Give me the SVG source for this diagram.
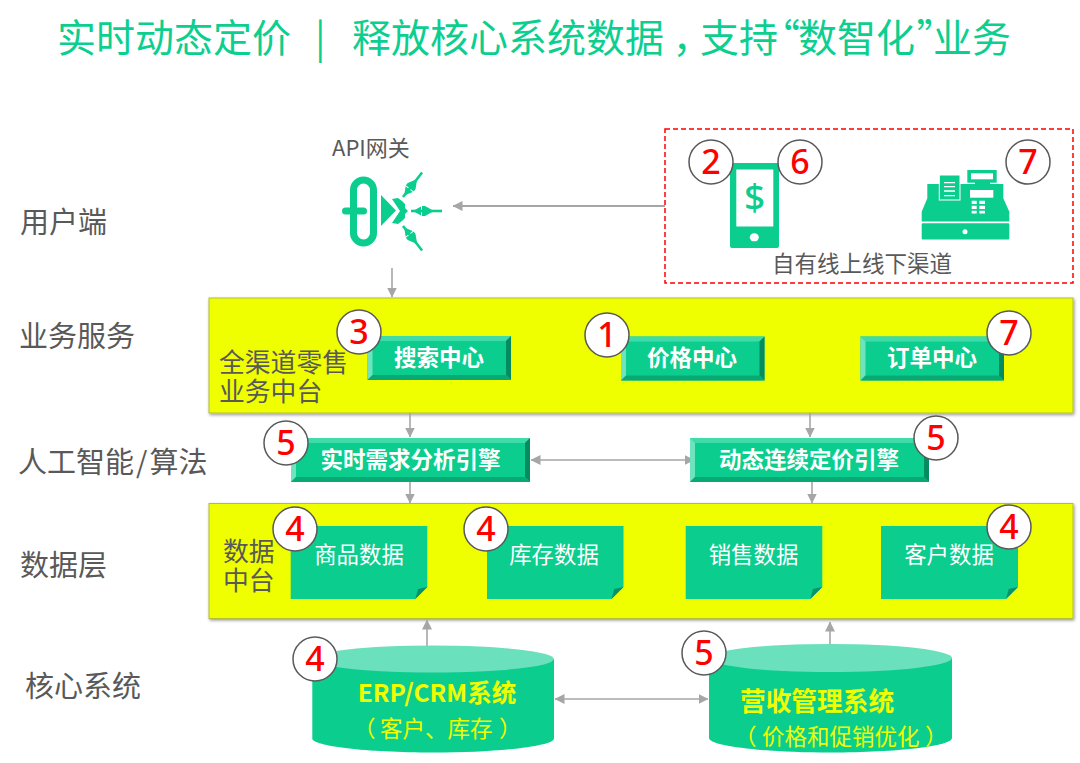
<svg xmlns="http://www.w3.org/2000/svg" width="1080" height="763" viewBox="0 0 1080 763">
<style>
text{font-family:"Noto Sans CJK SC","Noto Sans",sans-serif}
.title{font-size:39px;fill:#0ccf8f}
.p{font-feature-settings:"palt"}
.side{font-size:29px;fill:#595959}
.inner{font-size:25.800px;fill:#595959}
.small{font-size:22.500px;fill:#595959}
.btn{font-size:22.500px;font-weight:700;fill:#fff;text-anchor:middle}
.card{font-size:22.400px;fill:#fff;text-anchor:middle}
.sys{font-weight:700;fill:#f0ff00}
.sub{font-size:22.500px;fill:#f0ff00}
.panel{fill:#efff05;stroke:#b3bd3a;stroke-width:1;filter:url(#sh)}
.g{fill:#0bce8e}
.lt{fill:#3fdcaa}.ll{fill:#6fe3bf}.lr{fill:#068a60}.lb{fill:#09a976}
.top{fill:#6be0bc}
.fold{fill:#07916a}
.badge circle{fill:#fff;stroke:#595959;stroke-width:1.500}
.badge text{font-family:"Noto Sans",sans-serif;font-size:34px;font-weight:500;fill:#f00;text-anchor:middle}
.w{fill:#fff}
.c{stroke:#a6a6a6;stroke-width:1.600;fill:none}
</style>
<defs>
<filter id="sh" x="-2%" y="-5%" width="104%" height="110%"><feDropShadow dx="1" dy="1.500" stdDeviation="1.500" flood-color="#000" flood-opacity="0.4"/></filter>
<marker id="ah" viewBox="0 0 10 10" refX="9.500" refY="5" markerWidth="10" markerHeight="10" markerUnits="userSpaceOnUse" orient="auto-start-reverse"><path d="M0 0L10 5L0 10z" fill="#a6a6a6"/></marker>
<g id="plug"><path d="M0 -1.300H31V1.300H0z"/><path d="M2 0L10 -4.500V4.500z"/><path d="M11 -5H14L23 0L14 5H11z"/></g>
</defs>

<g id="title">
<text class="title p" y="52"><tspan x="57">实时动态定价</tspan><tspan x="315">|</tspan><tspan x="352">释放核心系统数据</tspan><tspan x="675">，</tspan><tspan x="700">支持</tspan><tspan x="780">“</tspan><tspan x="798">数智化</tspan><tspan x="917">”</tspan><tspan x="933">业务</tspan></text>
</g>

<g id="layer-labels">
<text class="side" x="20" y="233">用户端</text>
<text class="side" x="19" y="347">业务服务</text>
<text class="side" y="473"><tspan x="18">人工智能</tspan><tspan x="136">/</tspan><tspan x="149.500">算法</tspan></text>
<text class="side" x="20" y="576">数据层</text>
<text class="side" x="25" y="697">核心系统</text>
</g>

<g id="panel-business"><rect class="panel" x="209" y="298" width="864" height="115"/>
<text class="inner" x="219" y="372">全渠道零售</text><text class="inner" x="219" y="401">业务中台</text></g>
<g id="panel-data"><rect class="panel" x="209" y="503.500" width="864" height="115"/>
<text class="inner" x="223" y="561">数据</text><text class="inner" x="223" y="590">中台</text></g>

<g id="connectors">
<path class="c" style="stroke-width:2" d="M665 206H453" marker-end="url(#ah)"/>
<path class="c" d="M392 268V297" marker-end="url(#ah)"/>
<path class="c" d="M410 413V437" marker-end="url(#ah)"/>
<path class="c" d="M810 413V437" marker-end="url(#ah)"/>
<path class="c" d="M531 460H694" marker-start="url(#ah)" marker-end="url(#ah)"/>
<path class="c" d="M410 482V503" marker-end="url(#ah)"/>
<path class="c" d="M812 482V503" marker-end="url(#ah)"/>
<path class="c" d="M427 646V620" marker-end="url(#ah)"/>
<path class="c" d="M830 645V622" marker-end="url(#ah)"/>
<path class="c" d="M555 699H708" marker-start="url(#ah)" marker-end="url(#ah)"/>
</g>

<g id="api-gateway">
<text x="332" y="156" style="font-size:22px;fill:#595959">API网关</text>
<rect x="353.500" y="180" width="20" height="63" rx="10" fill="none" stroke="#0bce8e" stroke-width="7"/>
<rect class="g" x="342" y="207.500" width="25" height="7" rx="3.500"/>
<path class="g" d="M381 195L396 210.500L381 226z"/>
<path class="g" d="M392 199L398 198L402 201L405 204L405 208L408 211L405 214L405 218L402 221L398 224L392 223L400 211z"/>
<g class="g"><use href="#plug" transform="translate(411 211)"/><use href="#plug" transform="translate(403 197) rotate(-52)"/><use href="#plug" transform="translate(403 226) rotate(52)"/></g>
</g>

<g id="channels">
<rect x="665" y="129" width="408" height="154" fill="none" stroke="#f00" stroke-width="1.500" stroke-dasharray="5 3"/>
<text class="small" x="772" y="272">自有线上线下渠道</text>
</g>

<g id="phone">
<rect class="g" x="730" y="163" width="49" height="85" rx="2"/>
<rect class="w" x="736.300" y="169.500" width="37" height="57"/>
<ellipse class="w" cx="754.300" cy="237.300" rx="4.500" ry="4"/>
<text x="754.500" y="210" text-anchor="middle" style="font-family:'Noto Sans',sans-serif;font-weight:500;font-size:37px;fill:#0bce8e">$</text>
</g>

<g id="register">
<rect class="g" x="921.700" y="223.300" width="87.600" height="16.200" rx="1"/>
<circle class="w" cx="965" cy="231.700" r="2.500"/>
<path class="g" d="M921.700 221.500V211.700L927.300 198.300V184H1003.300V198.300L1009.300 211.700V221.500z"/>
<rect class="g" x="939.300" y="175" width="20.700" height="25" stroke="#fff" stroke-width="1"/>
<path d="M944 182.700H955M944 186.700H955M944 191H955M944 195.700H955" stroke="#fff" stroke-width="1.300"/>
<rect class="g" x="975" y="181" width="15" height="4"/>
<rect class="g" x="967.300" y="170" width="29.400" height="12.700"/>
<rect class="w" x="971" y="173.300" width="22" height="6"/>
<rect class="w" x="970" y="190" width="23.300" height="7.700"/>
<path class="w" d="M971.700 200.700h5v3.300h-5zM979.300 200.700h5.700v3.300h-5.700zM971.700 205.700h5v3.300h-5zM979.300 205.700h5.700v3.300h-5.700zM971.700 210.700h5v2.800h-5zM979.300 210.700h5.700v2.800h-5.700z"/>
</g>

<g id="btn-search">
<rect class="g" x="367.500" y="336" width="143.500" height="44"/>
<path class="lt" d="M367.500 336H511L506 341H372.500z"/><path class="ll" d="M367.500 336V380L372.500 375V341z"/><path class="lr" d="M511 336V380L506 375V341z"/><path class="lb" d="M367.500 380H511L506 375H372.500z"/>
<text class="btn" x="439" y="366">搜索中心</text>
</g>
<g id="btn-price">
<rect class="g" x="621" y="336.500" width="143.500" height="44"/>
<path class="lt" d="M621 336.500H764.500L759.500 341.500H626z"/><path class="ll" d="M621 336.500V380.500L626 375.500V341.500z"/><path class="lr" d="M764.500 336.500V380.500L759.500 375.500V341.500z"/><path class="lb" d="M621 380.500H764.500L759.500 375.500H626z"/>
<text class="btn" x="692" y="366">价格中心</text>
</g>
<g id="btn-order">
<rect class="g" x="860.500" y="336.500" width="143.500" height="44"/>
<path class="lt" d="M860.500 336.500H1004L999 341.500H865.500z"/><path class="ll" d="M860.500 336.500V380.500L865.500 375.500V341.500z"/><path class="lr" d="M1004 336.500V380.500L999 375.500V341.500z"/><path class="lb" d="M860.500 380.500H1004L999 375.500H865.500z"/>
<text class="btn" x="932" y="366">订单中心</text>
</g>
<g id="engine-demand">
<rect class="g" x="291" y="438" width="239" height="44"/>
<path class="lt" d="M291 438H530L525 443H296z"/><path class="ll" d="M291 438V482L296 477V443z"/><path class="lr" d="M530 438V482L525 477V443z"/><path class="lb" d="M291 482H530L525 477H296z"/>
<text class="btn" x="410.500" y="468">实时需求分析引擎</text>
</g>
<g id="engine-pricing">
<rect class="g" x="690" y="438" width="239" height="44"/>
<path class="lt" d="M690 438H929L924 443H695z"/><path class="ll" d="M690 438V482L695 477V443z"/><path class="lr" d="M929 438V482L924 477V443z"/><path class="lb" d="M690 482H929L924 477H695z"/>
<text class="btn" x="809" y="468">动态连续定价引擎</text>
</g>

<g id="card-product">
<path class="g" d="M290.700 526H427.300V587L415.300 599H290.700z"/><path class="fold" d="M415.300 599L427.300 587L418 589z"/>
<text class="card" x="359" y="563">商品数据</text>
</g>
<g id="card-stock">
<path class="g" d="M487 526H623.500V587L611.500 599H487z"/><path class="fold" d="M611.500 599L623.500 587L614.200 589z"/>
<text class="card" x="554" y="563">库存数据</text>
</g>
<g id="card-sales">
<path class="g" d="M685.700 526H822.300V587L810.300 599H685.700z"/><path class="fold" d="M810.300 599L822.300 587L813 589z"/>
<text class="card" x="753.500" y="563">销售数据</text>
</g>
<g id="card-customer">
<path class="g" d="M881 526H1018V587L1006 599H881z"/><path class="fold" d="M1006 599L1018 587L1008.700 589z"/>
<text class="card" x="949" y="563">客户数据</text>
</g>

<g id="db-erp">
<path class="g" d="M312.300 659V738.500C312.300 746 366 752.500 433 752.500S554 746 554 738.500V659z"/>
<ellipse class="top" cx="433" cy="659" rx="120.700" ry="13.500"/>
<text class="sys" x="437" y="702" text-anchor="middle" style="font-size:24.500px">ERP/CRM系统</text>
<text class="sub" y="737"><tspan x="353">（</tspan><tspan x="380">客户、库存</tspan><tspan x="499">）</tspan></text>
</g>
<g id="db-revenue">
<path class="g" d="M709 658V738C709 746 763 752.500 830.500 752.500S952 746 952 738V658z"/>
<ellipse class="top" cx="830.500" cy="658" rx="121.500" ry="14"/>
<text class="sys" x="740" y="711" style="font-size:25.700px">营收管理系统</text>
<text class="sub" y="745"><tspan x="734">（</tspan><tspan x="762">价格和促销优化</tspan><tspan x="925">）</tspan></text>
</g>

<g id="badges">
<g class="badge"><circle cx="711" cy="162" r="22"/><text x="711" y="174">2</text></g>
<g class="badge"><circle cx="800" cy="162" r="22"/><text x="800" y="174">6</text></g>
<g class="badge"><circle cx="1028" cy="162" r="22"/><text x="1028" y="174">7</text></g>
<g class="badge"><circle cx="359" cy="332" r="22"/><text x="359" y="344">3</text></g>
<g class="badge"><circle cx="607" cy="335" r="22"/><text x="607" y="347">1</text></g>
<g class="badge"><circle cx="1009" cy="333" r="22"/><text x="1009" y="345">7</text></g>
<g class="badge"><circle cx="286" cy="443" r="22"/><text x="286" y="455">5</text></g>
<g class="badge"><circle cx="936" cy="438" r="22"/><text x="936" y="450">5</text></g>
<g class="badge"><circle cx="295" cy="529" r="22"/><text x="295" y="541">4</text></g>
<g class="badge"><circle cx="486" cy="529" r="22"/><text x="486" y="541">4</text></g>
<g class="badge"><circle cx="1009" cy="527" r="22"/><text x="1009" y="539">4</text></g>
<g class="badge"><circle cx="315" cy="659" r="22"/><text x="315" y="671">4</text></g>
<g class="badge"><circle cx="704" cy="653" r="22"/><text x="704" y="665">5</text></g>
</g>
</svg>
